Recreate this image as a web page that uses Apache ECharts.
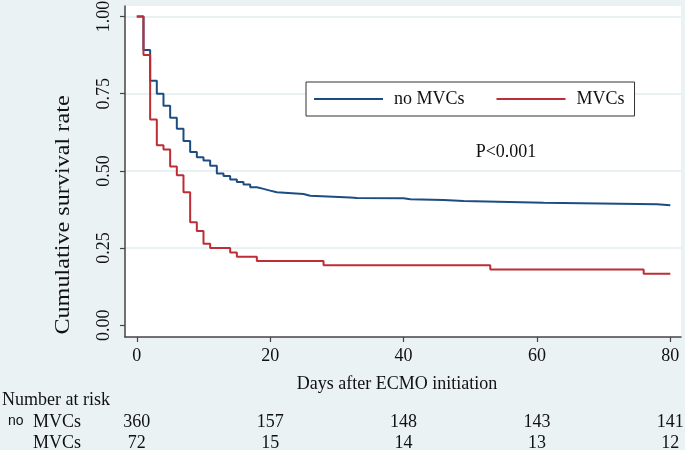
<!DOCTYPE html>
<html><head><meta charset="utf-8">
<script src="https://cdn.jsdelivr.net/npm/echarts@6/dist/echarts.min.js"></script>
<style>html,body{margin:0;padding:0;background:#EAF2F3}#c{width:685px;height:450px}</style>
</head><body><div id="c"></div>
<script>
// Kaplan-Meier step data (day of change, survival after change)
const noMvcDays = [0,1,2,3,4,5,6,7,8,9,10,11,12,13,14,15,16,17,18,19,20,21,25,26,32,33,40,41,46,49,61,78,80];
const noMvcSurv = [1,0.8917,0.7917,0.75,0.7111,0.6722,0.6361,0.5972,0.5611,0.5444,0.5333,0.5167,0.4917,0.4833,0.4722,0.4639,0.4556,0.4472,0.4417,0.4361,0.4306,0.425,0.4194,0.4139,0.4125,0.4111,0.4083,0.4056,0.4028,0.3972,0.3917,0.3889,0.3889];
const mvcDays = [0,1,2,3,4,5,6,7,8,9,10,11,14,15,18,28,53,76,80];
const mvcSurv = [1,0.875,0.6667,0.5833,0.5694,0.5139,0.4861,0.4306,0.3333,0.3056,0.2639,0.25,0.2361,0.2222,0.2083,0.1944,0.1806,0.1667,0.1667];
const xTicks = [0,20,40,60,80];
const yTicks = [0,0.25,0.5,0.75,1];
const riskTimes = [0,20,40,60,80];
const riskNoMvc = [360,157,148,143,141];
const riskMvc = [72,15,14,13,12];
const seriesNames = ['no MVCs','MVCs'];

const serif = 'Liberation Serif';
const blue = '#1D4C80';
const red = '#BE2C36';
const chart = echarts.init(document.getElementById('c'), null, {renderer:'canvas'});
const pairs = (xs, ys) => xs.map((x,i)=>[x, ys[i]]);
chart.setOption({
  animation:false,
  backgroundColor:'#EAF2F3',
  grid:{left:125,right:4,top:6,bottom:113,show:true,backgroundColor:'#ffffff',borderWidth:0,containLabel:false,outerBoundsMode:'none'},
  legend:{
    left:306, top:82, orient:'horizontal',
    padding:[8,10,8,8], itemWidth:69, itemHeight:2, itemGap:32,
    icon:'rect', borderColor:'#333', borderWidth:1, backgroundColor:'#fff',
    textStyle:{fontFamily:serif,fontSize:18,color:'#111',padding:[0,0,0,6]},
    data:seriesNames
  },
  xAxis:{type:'value',min:-1.77,max:81.6,
    axisLine:{show:true,onZero:false,lineStyle:{color:'#444',width:1.5}},
    axisTick:{show:true,customValues:xTicks,length:5,lineStyle:{color:'#444',width:1.2}},
    axisLabel:{customValues:xTicks,fontFamily:serif,fontSize:18,color:'#111',margin:10},
    splitLine:{show:false}},
  yAxis:{type:'value',min:-0.0379,max:1.034,
    axisLine:{show:true,onZero:false,lineStyle:{color:'#444',width:1.5}},
    axisTick:{show:true,customValues:yTicks,length:5,lineStyle:{color:'#444',width:1.2}},
    axisLabel:{customValues:yTicks,rotate:90,fontFamily:serif,fontSize:18,color:'#111',margin:12,formatter:v=>v.toFixed(2)},
    splitLine:{show:true,lineStyle:{color:['rgba(0,0,0,0)','#E2EDEF','#E2EDEF','#E2EDEF','#E2EDEF'],width:1.5}}},
  series:[
    {name:seriesNames[0],type:'line',step:'end',showSymbol:false,color:blue,lineStyle:{width:2,color:blue},data:pairs(noMvcDays,noMvcSurv)},
    {name:seriesNames[1],type:'line',step:'end',showSymbol:false,color:red,lineStyle:{width:2,color:red},data:pairs(mvcDays,mvcSurv)}
  ]
});

const g = [];
const txt = (text,x,y,opts) => Object.assign({type:'text',x:x,y:y,style:Object.assign({text:text,fontFamily:serif,fontSize:18,fill:'#111',align:'center',verticalAlign:'middle'},opts||{})});
g.push({type:'text',x:63,y:215,rotation:Math.PI/2,scaleX:1.1,style:{text:'Cumulative survival rate',fontFamily:serif,fontSize:22,fill:'#111',align:'center',verticalAlign:'middle'}});
g.push(txt('Days after ECMO initiation',397,384));
g.push(txt('P<0.001',506,152));
g.push(txt('Number at risk',2,400,{align:'left'}));
g.push(txt('no',8,421,{align:'left',fontFamily:'Liberation Sans',fontSize:14}));
g.push(txt('MVCs',33,422,{align:'left'}));
g.push(txt('MVCs',33,443,{align:'left'}));
riskTimes.forEach((t,i)=>{
  const px = chart.convertToPixel({xAxisIndex:0}, t);
  g.push(txt(String(riskNoMvc[i]),px,422));
  g.push(txt(String(riskMvc[i]),px,443));
});
chart.setOption({graphic:g});
</script></body></html>
